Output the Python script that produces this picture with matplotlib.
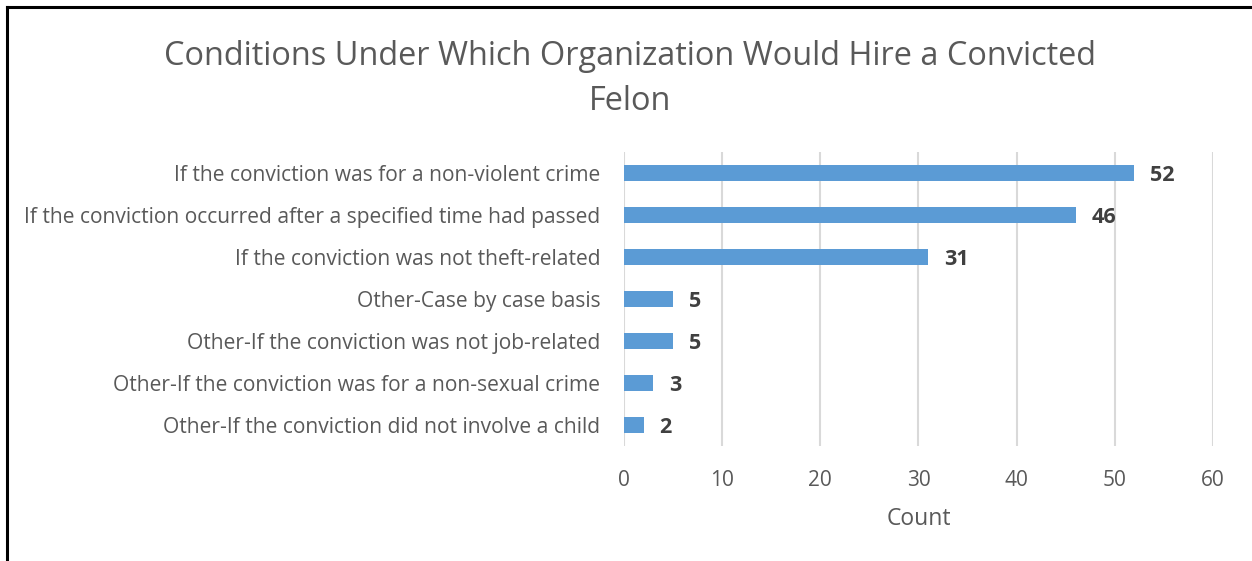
import matplotlib.pyplot as plt

conditions = [
    "If the conviction was for a non-violent crime",
    "If the conviction occurred after a specified time had passed",
    "If the conviction was not theft-related",
    "Other-Case by case basis",
    "Other-If the conviction was not job-related",
    "Other-If the conviction was for a non-sexual crime",
    "Other-If the conviction did not involve a child",
]
counts = [52, 46, 31, 5, 5, 3, 2]
x_ticks = [0, 10, 20, 30, 40, 50, 60]

plt.rcParams['font.family'] = ['Open Sans', 'DejaVu Sans']
grey = '#595959'

fig = plt.figure(figsize=(12.52, 5.61), dpi=100)
ax = fig.add_axes([0.4984, 0.2050, 0.4704, 0.5241])

pos = list(range(len(conditions)))
ax.barh(pos, counts, height=0.36, color='#5b9bd5', zorder=3)
for p, c in zip(pos, counts):
    ax.annotate(str(c), (c, p), xytext=(11.5, -2), textcoords='offset points',
                va='center', ha='left', fontsize=15.5, fontweight='bold', color='#404040')

ax.set_ylim(len(conditions) - 0.5, -0.5)
ax.set_xlim(0, 60)
ax.set_yticks(pos)
ax.set_yticklabels(conditions, fontsize=15.1, color=grey)
ax.set_xticks(x_ticks)
ax.set_xticklabels([str(t) for t in x_ticks], fontsize=15, color=grey)
ax.tick_params(axis='both', length=0)
ax.tick_params(axis='y', pad=17)
ax.tick_params(axis='x', pad=17)
ax.xaxis.grid(True, color='#d9d9d9', linewidth=1.5, zorder=0)
for s in ax.spines.values():
    s.set_visible(False)
ax.set_xlabel('Count', fontsize=16.5, color=grey, labelpad=12)

fig.text(0.503, 0.859, 'Conditions Under Which Organization Would Hire a Convicted\nFelon',
         ha='center', va='center', fontsize=23.4, color=grey, linespacing=1.47)

# frame line along top and left edges
fig.add_artist(plt.Line2D([0.0055, 0.0055], [0, 0.987], color='black', linewidth=2.2,
                          transform=fig.transFigure))
fig.add_artist(plt.Line2D([0.0055, 1], [0.987, 0.987], color='black', linewidth=2.2,
                          transform=fig.transFigure))

fig.savefig('out.png', dpi=100)
